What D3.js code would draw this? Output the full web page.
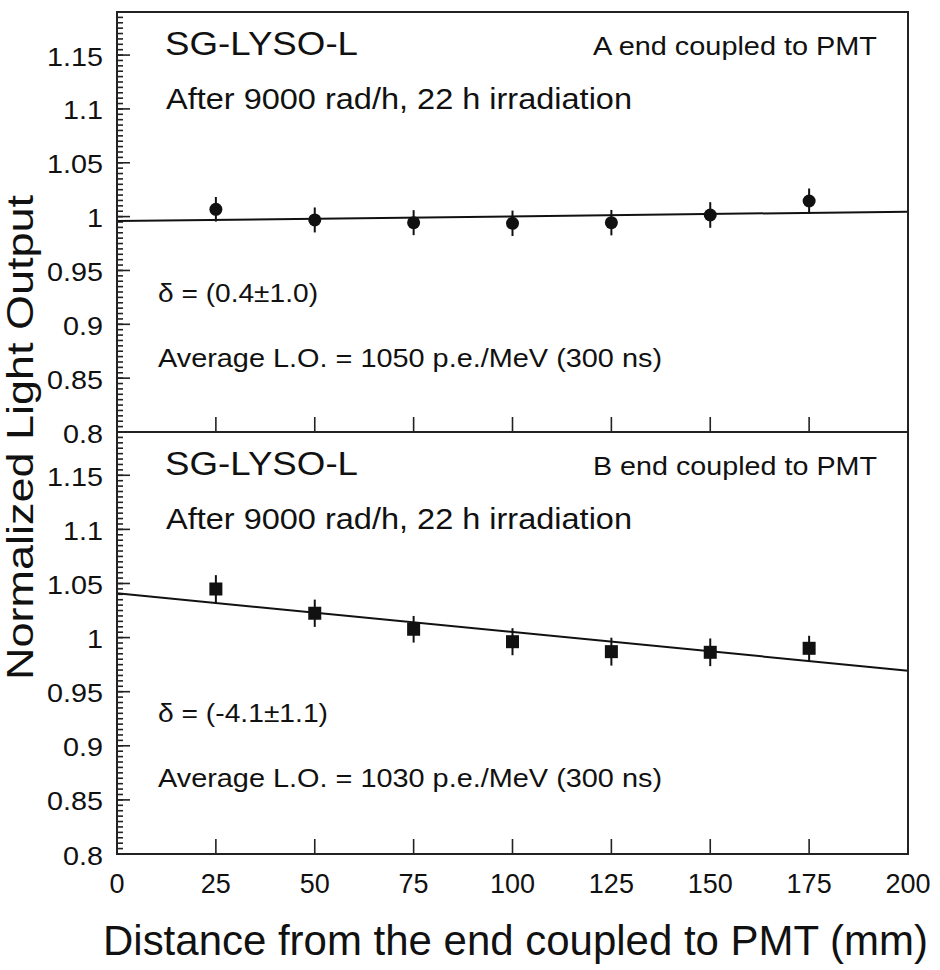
<!DOCTYPE html>
<html lang="en">
<head>
<meta charset="UTF-8">
<title>SG-LYSO-L light output uniformity</title>
<script src="https://d3js.org/d3.v7.min.js"></script>
<style>
body { margin: 0; background: #fff; }
svg text { font-family: "Liberation Sans", Arial, Helvetica, sans-serif; fill: #111; }
.frame { fill: none; stroke: #222; stroke-width: 2; }
.tick { stroke: #222; stroke-width: 1.6; }
.fit { stroke: #111; stroke-width: 2; fill: none; }
.err { stroke: #111; stroke-width: 2; }
.mark { fill: #111; }
</style>
</head>
<body>
<script>

// distance from the end coupled to PMT (mm)
var positions = [25, 50, 75, 100, 125, 150, 175];
var xTicks = [0, 25, 50, 75, 100, 125, 150, 175, 200];

// A end coupled to PMT
var lightA = [1.0068, 0.9969, 0.9944, 0.9938, 0.9944, 1.0015, 1.0145];
var errA   = [0.0114, 0.0116, 0.0116, 0.0118, 0.0118, 0.0119, 0.0116];
var fitA   = [0.9959, 1.0046];   // fit value at x = 0 and x = 200

// B end coupled to PMT
var lightB = [1.0449, 1.0225, 1.0077, 0.9962, 0.9870, 0.9864, 0.9901];
var errB   = [0.0128, 0.0126, 0.0123, 0.0125, 0.0129, 0.0128, 0.0116];
var fitB   = [1.0409, 0.9694];

var yMajor  = [0.8, 0.85, 0.9, 0.95, 1, 1.05, 1.1, 1.15];
var yLabels = ["0.8", "0.85", "0.9", "0.95", "1", "1.05", "1.1", "1.15"];
var yMinorStep = 0.005;

var panels = [
  { name: "SG-LYSO-L", end: "A end coupled to PMT", dose: "After 9000 rad/h, 22 h irradiation",
    delta: "\u03b4 = (0.4\u00b11.0)", lo: "Average L.O. = 1050 p.e./MeV (300 ns)",
    values: lightA, errors: errA, fit: fitA, marker: "circle" },
  { name: "SG-LYSO-L", end: "B end coupled to PMT", dose: "After 9000 rad/h, 22 h irradiation",
    delta: "\u03b4 = (-4.1\u00b11.1)", lo: "Average L.O. = 1030 p.e./MeV (300 ns)",
    values: lightB, errors: errB, fit: fitB, marker: "square" }
];

var width = 940, height = 970;
var left = 117, right = 908;
var panelTops = [12, 432], panelH = [420, 422];

var svg = d3.select("body").append("svg")
    .attr("width", width)
    .attr("height", height);

var x = d3.scaleLinear().domain([0, 200]).range([left, right]);

// text helper: font size for height, textLength for the stretched width
function label(g, str, px, py, size, len, anchor) {
  var t = g.append("text")
      .attr("x", px).attr("y", py)
      .style("font-size", size + "px")
      .attr("text-anchor", anchor || "start")
      .text(str);
  if (len) t.attr("textLength", len).attr("lengthAdjust", "spacingAndGlyphs");
  return t;
}

panels.forEach(function(p, i) {
  var top = panelTops[i], bot = top + panelH[i];
  var y = d3.scaleLinear().domain([0.8, 1.19]).range([bot, top]);
  var g = svg.append("g");

  // minor y ticks
  var minor = d3.range(0, 78).map(function(k) { return 0.8 + k * yMinorStep; });
  g.selectAll(".minor").data(minor).enter().append("line")
      .attr("class", "tick")
      .attr("x1", left).attr("x2", left + 6)
      .attr("y1", function(d) { return y(d); })
      .attr("y2", function(d) { return y(d); });

  // major y ticks
  g.selectAll(".major").data(yMajor).enter().append("line")
      .attr("class", "tick")
      .attr("x1", left).attr("x2", left + 13)
      .attr("y1", function(d) { return y(d); })
      .attr("y2", function(d) { return y(d); });

  // y tick labels (stretched horizontally like the original)
  yMajor.forEach(function(v, k) {
    var lg = g.append("g").attr("transform", "translate(103," + (y(v) + 10.5) + ") scale(1.15,1)");
    label(lg, yLabels[k], 0, 0, 25, null, "end");
  });

  // x ticks on the bottom edge, pointing up
  g.selectAll(".xt").data(xTicks.slice(1, -1)).enter().append("line")
      .attr("class", "tick")
      .attr("x1", function(d) { return x(d); })
      .attr("x2", function(d) { return x(d); })
      .attr("y1", bot).attr("y2", bot - 15);

  // fit line
  g.append("line")
      .attr("class", "fit")
      .attr("x1", x(0)).attr("y1", y(p.fit[0]))
      .attr("x2", x(200)).attr("y2", y(p.fit[1]));

  // error bars
  g.selectAll(".err").data(positions).enter().append("line")
      .attr("class", "err")
      .attr("x1", function(d) { return x(d); })
      .attr("x2", function(d) { return x(d); })
      .attr("y1", function(d, k) { return y(p.values[k] + p.errors[k]); })
      .attr("y2", function(d, k) { return y(p.values[k] - p.errors[k]); });

  // markers
  if (p.marker === "circle") {
    g.selectAll(".mark").data(positions).enter().append("circle")
        .attr("class", "mark")
        .attr("cx", function(d) { return x(d); })
        .attr("cy", function(d, k) { return y(p.values[k]); })
        .attr("r", 6.5);
  } else {
    g.selectAll(".mark").data(positions).enter().append("rect")
        .attr("class", "mark")
        .attr("x", function(d) { return x(d) - 6.5; })
        .attr("y", function(d, k) { return y(p.values[k]) - 6.5; })
        .attr("width", 13).attr("height", 13);
  }

  // frame
  g.append("rect")
      .attr("class", "frame")
      .attr("x", left).attr("y", top)
      .attr("width", right - left).attr("height", bot - top);

  // annotations
  label(g, p.name, 165, top + 42.5, 33, 193);
  label(g, p.end, 593, top + 42.5, 26, 284);
  label(g, p.dose, 166, top + 97, 29, 466);
  label(g, p.delta, 158, top + 290, 25, i === 0 ? 160 : 170);
  label(g, p.lo, 158, top + 355, 25.5, 504);
});

// x tick labels
xTicks.forEach(function(v) {
  label(svg, String(v), x(v), 893, 27, null, "middle");
});

// axis titles (x title squeezed a little so it stays inside the page)
label(svg, "Distance from the end coupled to PMT (mm)", 103, 955, 42, 825);

svg.append("text")
    .attr("transform", "translate(33,680) rotate(-90)")
    .style("font-size", "37px")
    .attr("textLength", 485)
    .attr("lengthAdjust", "spacingAndGlyphs")
    .text("Normalized Light Output");

</script>
</body>
</html>
